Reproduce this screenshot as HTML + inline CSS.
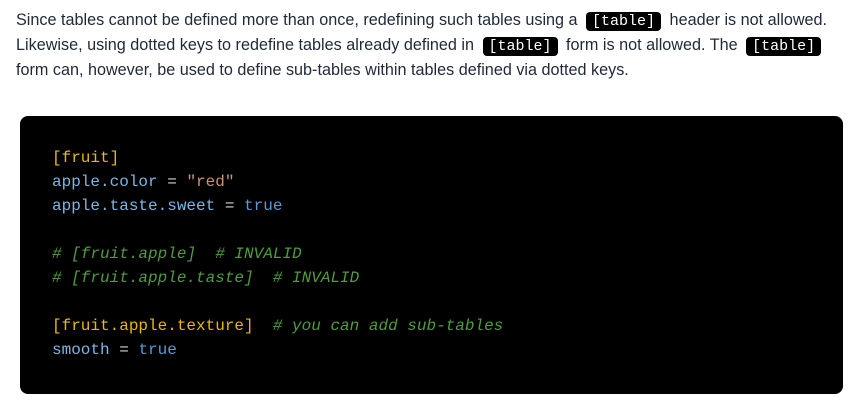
<!DOCTYPE html>
<html><head><meta charset="utf-8"><style>
body{margin:0;background:#fff;width:860px;height:419px;overflow:hidden;position:relative;font-family:"Liberation Sans",sans-serif;}
.l{position:absolute;left:16px;font-size:16.2px;color:#1f2937;white-space:nowrap;line-height:24px;}
code{font-family:"Liberation Mono",monospace;font-size:15px;background:#000;color:#fff;border-radius:4px;padding:1px 6px;margin:0 4px;}
.blk{position:absolute;left:20px;top:116px;width:823px;height:278px;background:#000;border-radius:8px;}
.c{position:absolute;left:52px;font-family:"Liberation Mono",monospace;font-size:16px;line-height:24px;white-space:pre;color:#7cb7e3;}
.y{color:#e8b80c}.s{color:#ce9178}.b{color:#569cd6}.g{color:#4f9c3e;font-style:italic}.w{color:#d4d4d4}
</style></head><body>
<div class="l" style="top:8px">Since tables cannot be defined more than once, redefining such tables using a <code>[table]</code> header is not allowed.</div>
<div class="l" style="top:33px">Likewise, using dotted keys to redefine tables already defined in <code>[table]</code> form is not allowed. The <code>[table]</code></div>
<div class="l" style="top:58px">form can, however, be used to define sub-tables within tables defined via dotted keys.</div>
<div class="blk"></div>
<div class="c" style="top:146px"><span class="y">[fruit]</span></div>
<div class="c" style="top:170px">apple.color <span class="w">=</span> <span class="s">"red"</span></div>
<div class="c" style="top:194px">apple.taste.sweet <span class="w">=</span> <span class="b">true</span></div>
<div class="c" style="top:242px"><span class="g"># [fruit.apple]  # INVALID</span></div>
<div class="c" style="top:266px"><span class="g"># [fruit.apple.taste]  # INVALID</span></div>
<div class="c" style="top:314px"><span class="y">[fruit.apple.texture]</span>  <span class="g"># you can add sub-tables</span></div>
<div class="c" style="top:338px">smooth <span class="w">=</span> <span class="b">true</span></div>
</body></html>
